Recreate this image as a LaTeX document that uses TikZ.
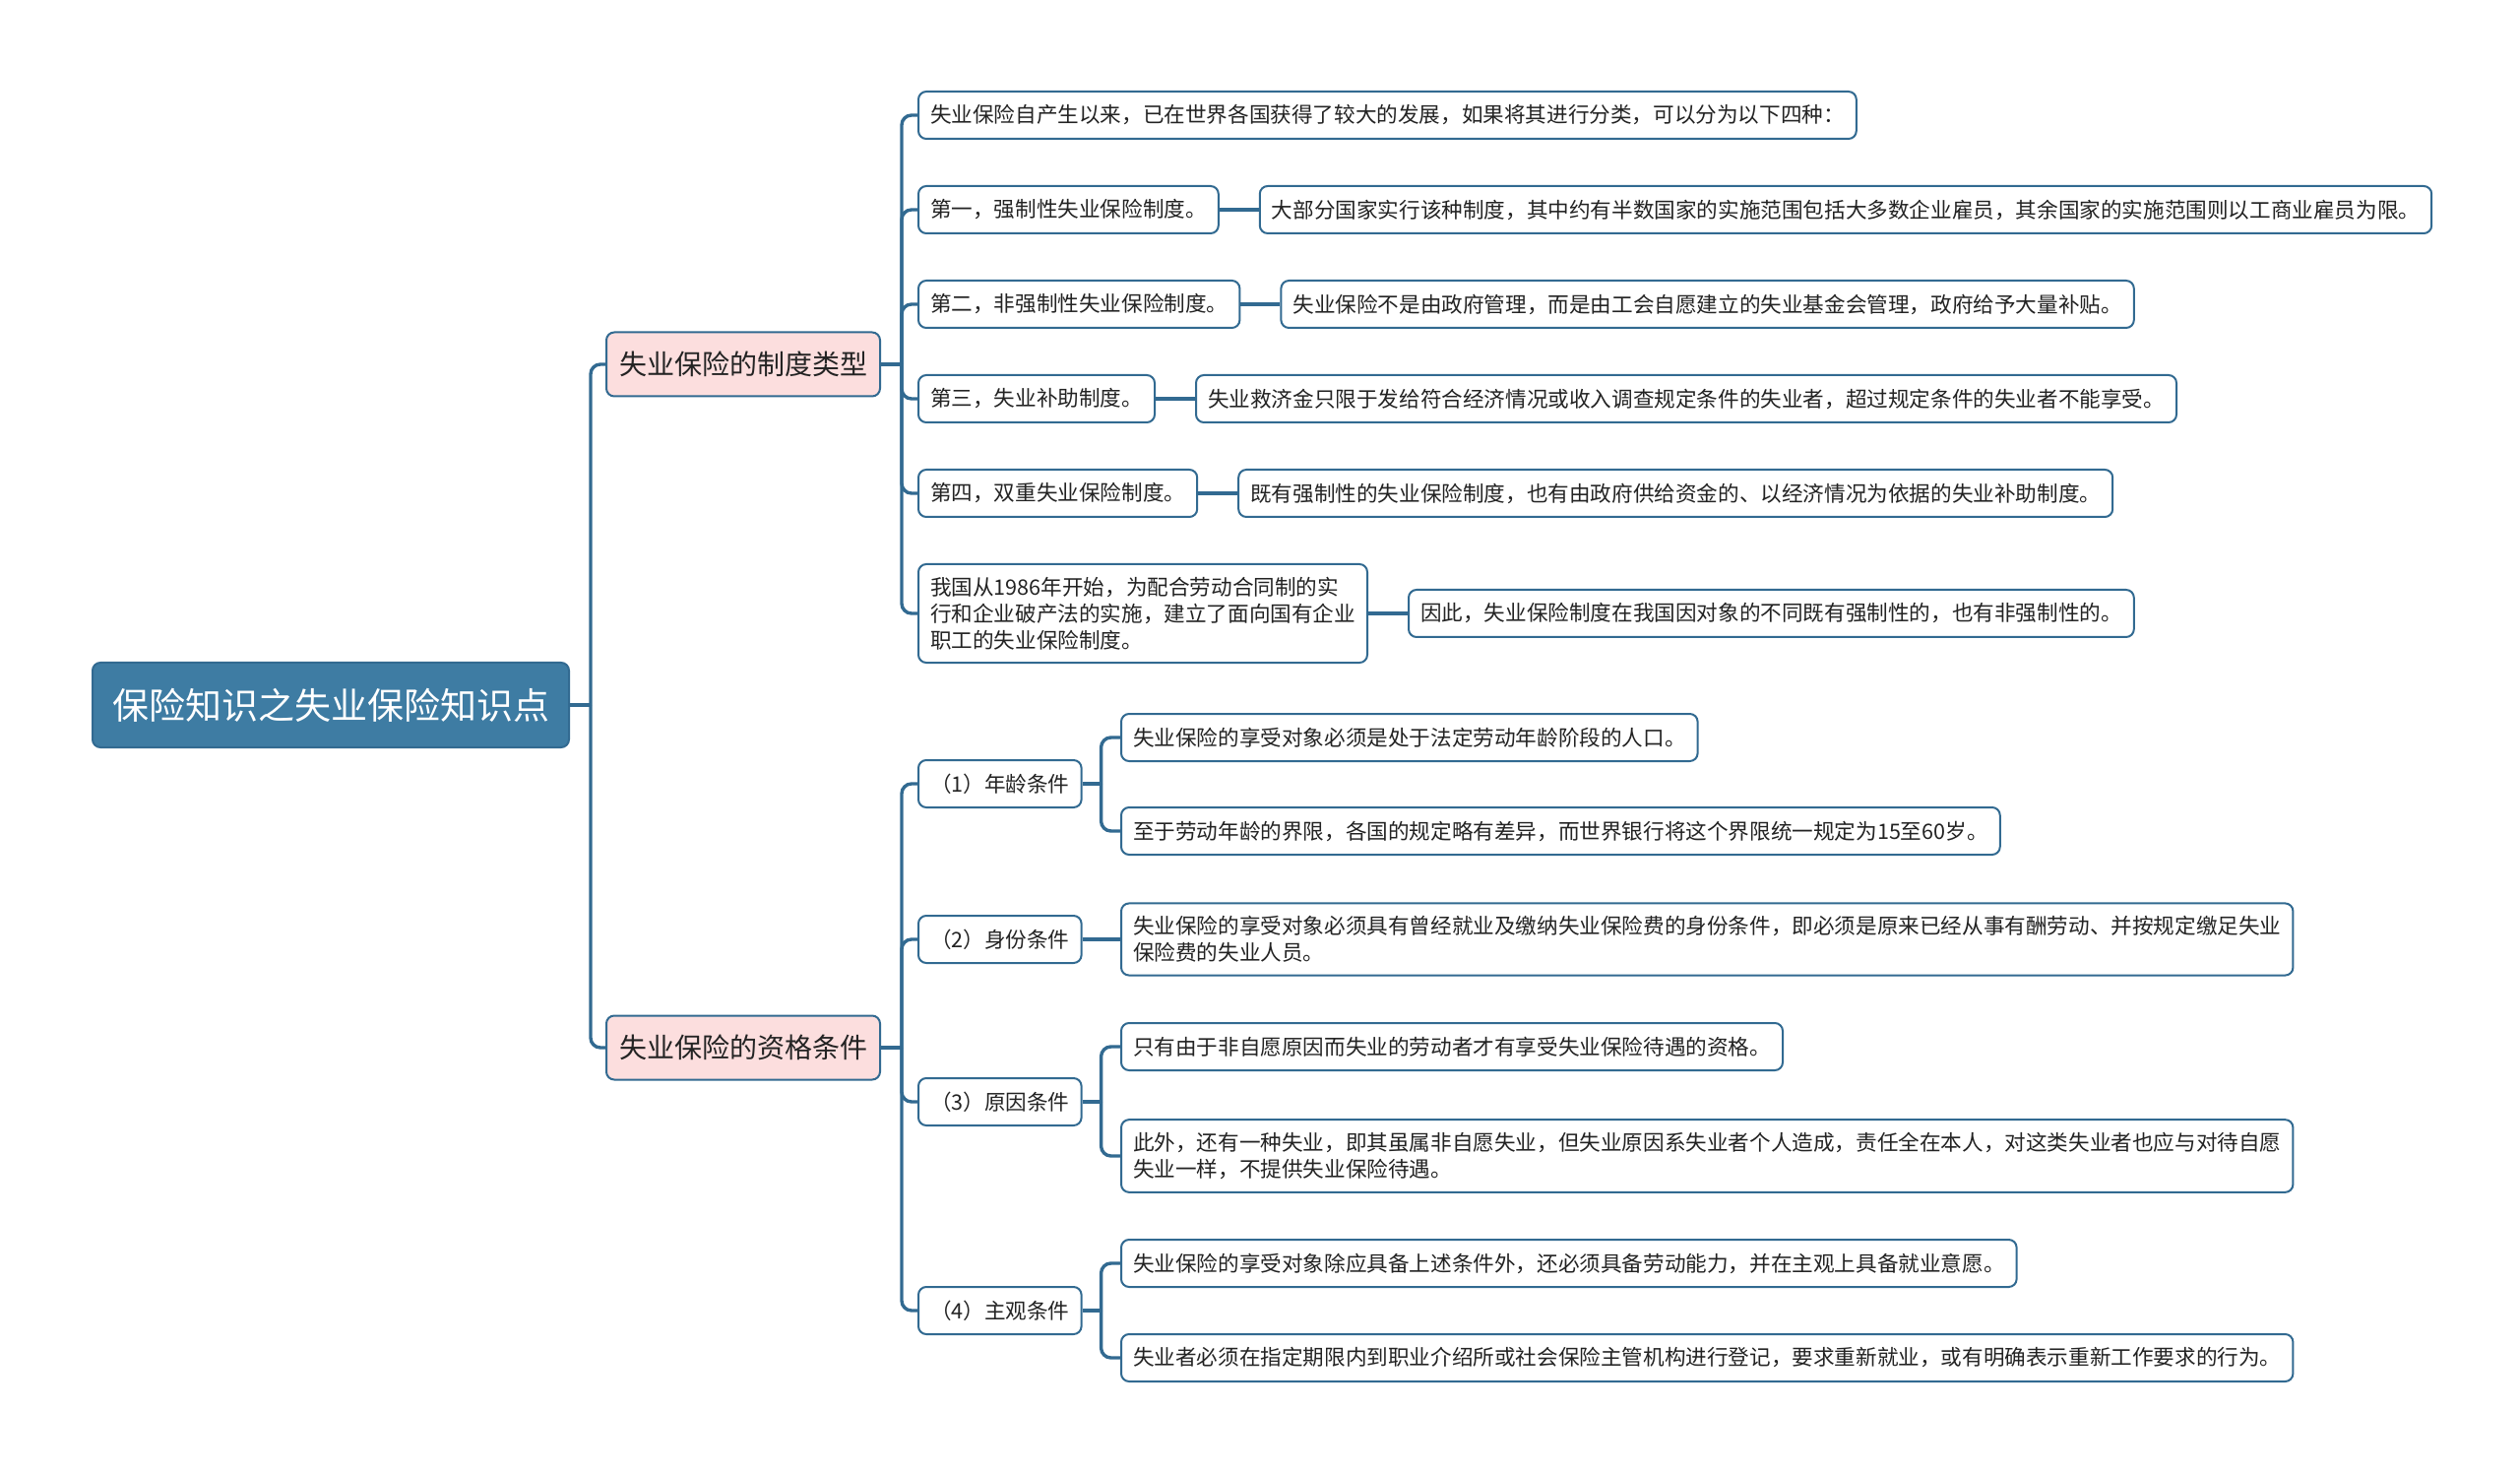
\documentclass[tikz,border=0pt]{standalone}
\usepackage{fontspec}
\setmainfont{Noto Sans CJK SC}
\definecolor{lineblue}{RGB}{50,106,145}
\definecolor{rootblue}{RGB}{62,124,163}
\definecolor{pinkfill}{RGB}{252,222,222}
\definecolor{txt}{RGB}{35,35,35}
\tikzset{
  rootnode/.style={draw=lineblue, fill=rootblue, rounded corners=4pt, text=white,
    font=\fontsize{18.5}{22}\selectfont, inner xsep=10pt, minimum height=43pt, line width=1pt},
  lvone/.style={draw=lineblue, fill=pinkfill, rounded corners=4pt, text=txt,
    font=\fontsize{14}{17}\selectfont, inner xsep=6.5pt, minimum height=32.5pt, line width=1pt},
  leaf/.style={draw=lineblue, fill=white, rounded corners=4pt, text=txt,
    font=\fontsize{10.8}{13.5}\selectfont, inner xsep=6pt, inner ysep=6.5pt,
    minimum height=24pt, align=left, line width=1pt, anchor=west},
  conn/.style={draw=lineblue, line width=1.7pt, rounded corners=5pt},
}
\begin{document}
\begin{tikzpicture}[x=0.5pt,y=-0.5pt]
\useasboundingbox (0,0) rectangle (2560,1497);

% root and level 1
\node[rootnode, anchor=west] (root) at (93,716) {保险知识之失业保险知识点};
\node[lvone, anchor=west] (T1) at (615,370) {失业保险的制度类型};
\node[lvone, anchor=west] (T2) at (615,1064) {失业保险的资格条件};

% branch 1
\node[leaf] (A0) at (932,117) {失业保险自产生以来，已在世界各国获得了较大的发展，如果将其进行分类，可以分为以下四种：};
\node[leaf] (A1) at (932,213) {第一，强制性失业保险制度。};
\node[leaf] (A2) at (932,309) {第二，非强制性失业保险制度。};
\node[leaf] (A3) at (932,405) {第三，失业补助制度。};
\node[leaf] (A4) at (932,501) {第四，双重失业保险制度。};
\node[leaf] (A5) at (932,623) {我国从1986年开始，为配合劳动合同制的实\\行和企业破产法的实施，建立了面向国有企业\\职工的失业保险制度。};

\node[leaf] (A1c) at ([xshift=20pt]A1.east) {大部分国家实行该种制度，其中约有半数国家的实施范围包括大多数企业雇员，其余国家的实施范围则以工商业雇员为限。};
\node[leaf] (A2c) at ([xshift=20pt]A2.east) {失业保险不是由政府管理，而是由工会自愿建立的失业基金会管理，政府给予大量补贴。};
\node[leaf] (A3c) at ([xshift=20pt]A3.east) {失业救济金只限于发给符合经济情况或收入调查规定条件的失业者，超过规定条件的失业者不能享受。};
\node[leaf] (A4c) at ([xshift=20pt]A4.east) {既有强制性的失业保险制度，也有由政府供给资金的、以经济情况为依据的失业补助制度。};
\node[leaf] (A5c) at ([xshift=20pt]A5.east) {因此，失业保险制度在我国因对象的不同既有强制性的，也有非强制性的。};

% branch 2
\node[leaf] (B1) at (932,796) {（1）年龄条件};
\node[leaf] (B2) at (932,954) {（2）身份条件};
\node[leaf] (B3) at (932,1119) {（3）原因条件};
\node[leaf] (B4) at (932,1331) {（4）主观条件};

\node[leaf] (B1a) at (1138,749) {失业保险的享受对象必须是处于法定劳动年龄阶段的人口。};
\node[leaf] (B1b) at (1138,844) {至于劳动年龄的界限，各国的规定略有差异，而世界银行将这个界限统一规定为15至60岁。};
\node[leaf] (B2c) at (1138,954) {失业保险的享受对象必须具有曾经就业及缴纳失业保险费的身份条件，即必须是原来已经从事有酬劳动、并按规定缴足失业\\保险费的失业人员。};
\node[leaf] (B3a) at (1138,1063) {只有由于非自愿原因而失业的劳动者才有享受失业保险待遇的资格。};
\node[leaf] (B3b) at (1138,1174) {此外，还有一种失业，即其虽属非自愿失业，但失业原因系失业者个人造成，责任全在本人，对这类失业者也应与对待自愿\\失业一样，不提供失业保险待遇。};
\node[leaf] (B4a) at (1138,1283) {失业保险的享受对象除应具备上述条件外，还必须具备劳动能力，并在主观上具备就业意愿。};
\node[leaf] (B4b) at (1138,1379) {失业者必须在指定期限内到职业介绍所或社会保险主管机构进行登记，要求重新就业，或有明确表示重新工作要求的行为。};

% connectors
\coordinate (j0) at ([xshift=10.5pt]root.east);
\draw[conn] (root.east) -- (j0);
\draw[conn] (j0) |- (T1.west);
\draw[conn] (j0) |- (T2.west);

\coordinate (j1) at ([xshift=10.5pt]T1.east);
\draw[conn] (T1.east) -- (j1);
\foreach \n in {A0,A1,A2,A3,A4,A5} \draw[conn] (j1) |- (\n.west);
\foreach \n in {A1,A2,A3,A4,A5} \draw[conn] (\n.east) -- (\n c.west);

\coordinate (j2) at ([xshift=10.5pt]T2.east);
\draw[conn] (T2.east) -- (j2);
\foreach \n in {B1,B2,B3,B4} \draw[conn] (j2) |- (\n.west);

\coordinate (k1) at ([xshift=9.5pt]B1.east);
\draw[conn] (B1.east) -- (k1);
\draw[conn] (k1) |- (B1a.west);
\draw[conn] (k1) |- (B1b.west);
\draw[conn] (B2.east) -- (B2c.west);
\coordinate (k3) at ([xshift=9.5pt]B3.east);
\draw[conn] (B3.east) -- (k3);
\draw[conn] (k3) |- (B3a.west);
\draw[conn] (k3) |- (B3b.west);
\coordinate (k4) at ([xshift=9.5pt]B4.east);
\draw[conn] (B4.east) -- (k4);
\draw[conn] (k4) |- (B4a.west);
\draw[conn] (k4) |- (B4b.west);
\end{tikzpicture}
\end{document}
